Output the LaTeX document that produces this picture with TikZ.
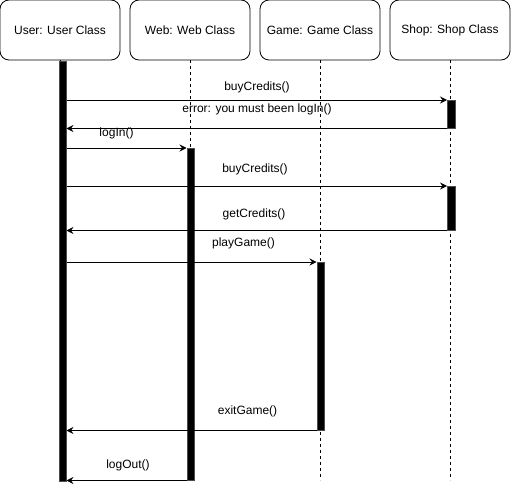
\documentclass[tikz,border=0pt]{standalone}
\usepackage{fontspec}
\setmainfont{Liberation Sans}
\usetikzlibrary{arrows.meta}
\begin{document}
\begin{tikzpicture}[x=1pt,y=-1pt,
  obj/.style={draw, rounded corners=9pt, minimum width=120pt, minimum height=60pt,
    inner sep=0pt, font=\fontsize{12}{14}\selectfont, line width=0.8pt},
  life/.style={dash pattern=on 3pt off 3pt, line width=0.8pt},
  actbar/.style={fill=black, draw=black!70, line width=0.5pt, inner sep=0pt,
    minimum width=7.5pt, anchor=north},
  msg/.style={-{Stealth[length=7pt,width=7pt,inset=2.5pt]}, line width=0.8pt},
  lbl/.style={font=\fontsize{12}{14}\selectfont, inner sep=0pt}]
\useasboundingbox (0,0) rectangle (512,492);

% object heads
\node[obj] (user) at (60,30)  {User: User Class};
\node[obj] (web)  at (190,30) {Web: Web Class};
\node[obj] (game) at (320,30) {Game: Game Class};
\node[obj] (shop) at (450,30) {Shop: Shop Class};

% lifelines
\foreach \o in {user,web,game,shop}
  \draw[life] (\o.south) -- ++(0,420);

% activation bars
\node[actbar, minimum height=420pt] (ubar)  at (62.5,61)  {};
\node[actbar, minimum height=332pt] (wbar)  at (190.5,148) {};
\node[actbar, minimum height=168pt] (gbar)  at (320.5,262) {};
\node[actbar, minimum height=28pt]  (sbar1) at (451,100) {};
\node[actbar, minimum height=44pt]  (sbar2) at (451,186) {};

% messages
\draw[msg] (ubar.east |- sbar1.north west) -- (sbar1.north west);
\node[lbl] (l1) at (257,87) {buyCredits()};

\draw[msg] (sbar1.south west) -- (ubar.east |- sbar1.south west);
\node[lbl] (l2) at (257,109) {error: you must been logIn()};

\draw[msg] (ubar.east |- wbar.north west) -- (wbar.north west);
\node[lbl] (l3) at (116.5,133.5) {logIn()};

\draw[msg] (ubar.east |- sbar2.north west) -- (sbar2.north west);
\node[lbl] (l4) at (255,169) {buyCredits()};

\draw[msg] (sbar2.south west) -- (ubar.east |- sbar2.south west);
\node[lbl] (l5) at (254,214) {getCredits()};

\draw[msg] (ubar.east |- gbar.north west) -- (gbar.north west);
\node[lbl] (l6) at (243.5,243) {playGame()};

\draw[msg] (gbar.south west) -- (ubar.east |- gbar.south west);
\node[lbl] (l7) at (247.5,411) {exitGame()};

\draw[msg] (wbar.south west) -- (ubar.east |- wbar.south west);
\node[lbl] (l8) at (128,465) {logOut()};
\end{tikzpicture}
\end{document}
